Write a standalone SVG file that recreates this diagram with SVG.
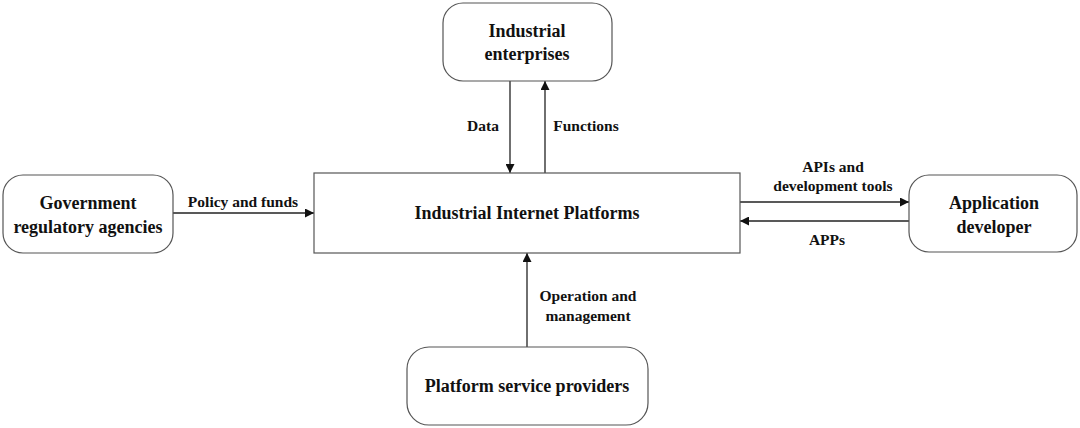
<svg xmlns="http://www.w3.org/2000/svg" width="1080" height="428" viewBox="0 0 1080 428" font-family="Liberation Serif, serif" font-weight="bold">
<style>
.node{fill:#fff;stroke:#555;stroke-width:1.2}
.t{font-size:18px;fill:#111;text-anchor:middle}
.l{font-size:15.5px;fill:#111;text-anchor:middle}
.c{stroke:#222;stroke-width:1.3;fill:none;marker-end:url(#ah)}
</style>
<defs>
<marker id="ah" viewBox="0 0 10 10" refX="10" refY="5" markerWidth="9" markerHeight="9" markerUnits="userSpaceOnUse" orient="auto">
<path d="M0,0 L10,5 L0,10 z" fill="#111"/>
</marker>
</defs>
<rect width="1080" height="428" fill="#fff"/>
<g id="connectors">
<line class="c" x1="510" y1="81" x2="510" y2="173"/>
<line class="c" x1="545" y1="173" x2="545" y2="81"/>
<line class="c" x1="173" y1="213" x2="314" y2="213"/>
<line class="c" x1="740" y1="202" x2="909" y2="202"/>
<line class="c" x1="909" y1="221" x2="740" y2="221"/>
<line class="c" x1="527" y1="347" x2="527" y2="253"/>
<text class="l" x="483" y="131">Data</text>
<text class="l" x="586" y="131">Functions</text>
<text class="l" x="243" y="207">Policy and funds</text>
<text class="l" x="833" y="172">APIs and</text>
<text class="l" x="833" y="191">development tools</text>
<text class="l" x="827" y="245">APPs</text>
<text class="l" x="588" y="301">Operation and</text>
<text class="l" x="588" y="321">management</text>
</g>
<g id="industrial-enterprises">
<rect class="node" x="443" y="3" width="169" height="78" rx="20"/>
<text class="t" x="527" y="37">Industrial</text>
<text class="t" x="527" y="60">enterprises</text>
</g>
<g id="platform">
<rect class="node" x="314" y="173" width="426" height="80"/>
<text class="t" x="527" y="219">Industrial Internet Platforms</text>
</g>
<g id="government">
<rect class="node" x="3" y="175" width="170" height="78" rx="20"/>
<text class="t" x="88" y="209">Government</text>
<text class="t" x="88" y="233">regulatory agencies</text>
</g>
<g id="app-developer">
<rect class="node" x="909" y="175" width="168" height="77" rx="20"/>
<text class="t" x="994" y="209">Application</text>
<text class="t" x="994" y="233">developer</text>
</g>
<g id="service-providers">
<rect class="node" x="407" y="347" width="241" height="78" rx="22"/>
<text class="t" x="527" y="392">Platform service providers</text>
</g>
</svg>
